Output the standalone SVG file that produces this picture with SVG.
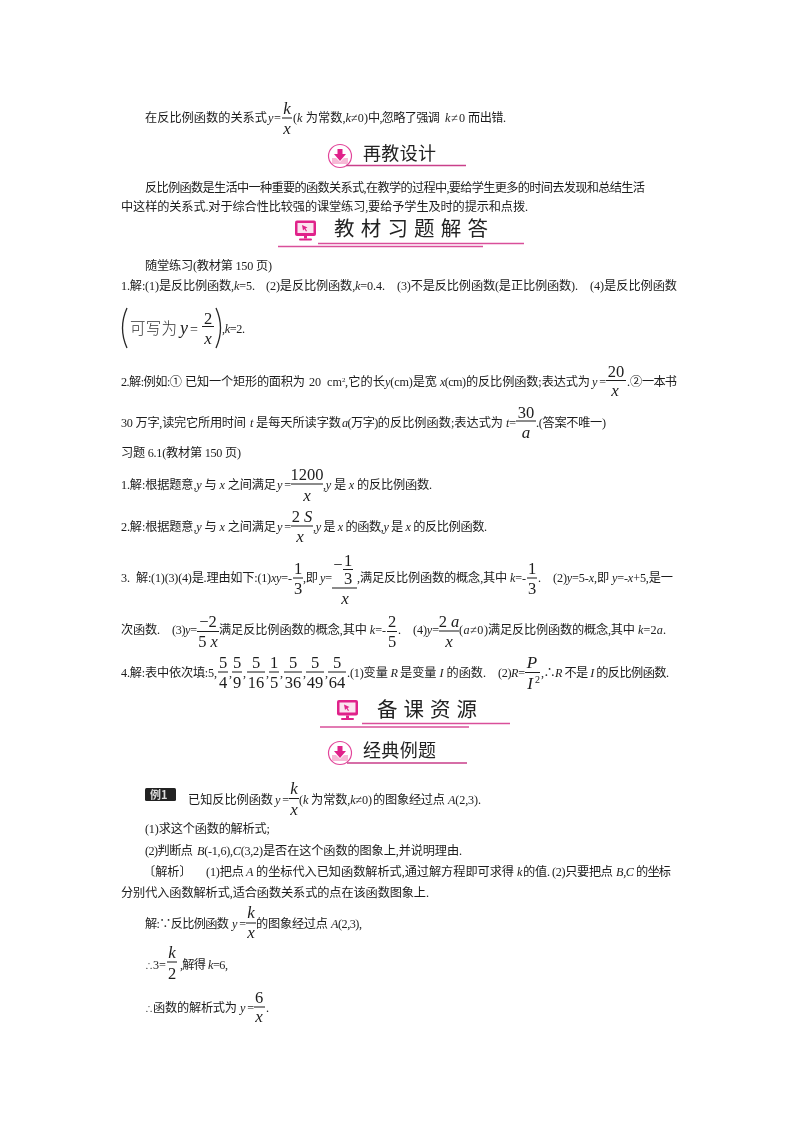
<svg xmlns="http://www.w3.org/2000/svg" width="800" height="1132" viewBox="0 0 800 1132">
<style>
text{font-family:"Liberation Serif","Noto Sans CJK SC",serif;font-size:12.2px;fill:#1c1c1c}
.v{font-style:italic}
.f{font-size:16.5px;text-anchor:middle}
.fi{font-size:17px;text-anchor:middle;font-style:italic}
.h{font-family:"Noto Sans CJK SC",sans-serif;font-size:18px;font-weight:400;fill:#222}
.h2{font-family:"Noto Sans CJK SC",sans-serif;font-size:20.500px;font-weight:400;fill:#222}
.p{font-family:"Noto Sans CJK SC",sans-serif;font-size:15.500px;font-weight:300;fill:#333}
.l{stroke:#1c1c1c;stroke-width:1;fill:none}
.r{stroke:#d94f9a;stroke-width:1.400;fill:none}
.r2{stroke:#c93f8a;stroke-width:1.500;fill:none}
.m{fill:#e0218a}
.n{fill:#f7b9d6}
</style>
<defs>
<filter id="soft" x="0" y="0" width="100%" height="100%"><feGaussianBlur stdDeviation="0.3"/></filter>
<g id="dl">
<circle cx="0" cy="0" r="11.500" fill="#fff" stroke="#e2459a" stroke-width="1.200"/>
<path class="n" d="M-8 2L-4 2L0 6L4 2L8 2L8 8L-8 8Z"/>
<path class="m" d="M-2.500 -7H2.500V-2H6L0 5L-6 -2H-2.500Z"/>
</g>
<g id="pc">
<rect x="0" y="0" width="21" height="15.500" rx="2" class="m"/>
<rect x="2.500" y="2.500" width="16" height="10" fill="#fbe3ef"/>
<path class="m" d="M7 4.500L12.500 7L10.500 8L12 10.500L11 11L9.500 8.500L8 10Z"/>
<rect x="9" y="15.500" width="3" height="2.500" class="m"/>
<rect x="4" y="18" width="13" height="2" rx="1" class="m"/>
</g>
</defs>
<rect width="800" height="1132" fill="#fff"/>
<g filter="url(#soft)">

<g id="note">
<text x="145" y="122" textLength="122">在反比例函数的关系式</text>
<text x="268" y="122" class="v">y</text><text x="274" y="122">=</text>
<text x="287" y="114" class="fi">k</text><path class="l" d="M282 118H292"/><text x="287" y="134" class="fi">x</text>
<text x="293" y="122" textLength="75">(<tspan class="v">k</tspan> 为常数,<tspan class="v">k</tspan>≠0)</text>
<text x="368" y="122" textLength="72">中,忽略了强调</text>
<text x="445" y="122" textLength="20"><tspan class="v">k</tspan>≠0</text>
<text x="468" y="122" textLength="38">而出错.</text>
</g>

<g id="heading-redesign">
<use href="#dl" x="340" y="156"/>
<text x="363" y="160" class="h" textLength="73">再教设计</text>
<path class="r2" d="M346 165.500H466"/>
</g>

<g id="para">
<text x="145" y="192" textLength="500">反比例函数是生活中一种重要的函数关系式,在教学的过程中,要给学生更多的时间去发现和总结生活</text>
<text x="121" y="211" textLength="407">中这样的关系式.对于综合性比较强的课堂练习,要给予学生及时的提示和点拨.</text>
</g>

<g id="heading-answers">
<use href="#pc" x="295" y="220.500"/>
<text x="334" y="236" class="h2" textLength="154">教材习题解答</text>
<path class="r" d="M318 243.500H524"/>
<path class="r" d="M278 246.500H483"/>
</g>

<g id="practice">
<text x="145" y="270" textLength="127">随堂练习(教材第 150 页)</text>
<text x="121" y="290" textLength="134">1.解:(1)是反比例函数,<tspan class="v">k</tspan>=5.</text>
<text x="266" y="290" textLength="119">(2)是反比例函数,<tspan class="v">k</tspan>=0.4.</text>
<text x="397" y="290" textLength="181">(3)不是反比例函数(是正比例函数).</text>
<text x="590" y="290" textLength="87">(4)是反比例函数</text>

<path d="M127 308Q118 328 127 348" fill="none" stroke="#262626" stroke-width="1.300"/>
<text x="130" y="333.500" class="p" textLength="47">可写为</text>
<text x="180" y="334" class="v" style="font-size:18px">y</text>
<text x="190" y="334" style="font-size:14px">=</text>
<text x="208" y="323.500" class="f">2</text><path class="l" d="M202 326.500H214"/><text x="208" y="344" class="fi">x</text>
<path d="M216 308Q225 328 216 348" fill="none" stroke="#262626" stroke-width="1.300"/>
<text x="222" y="333" textLength="23">,<tspan class="v">k</tspan>=2.</text>

<text x="121" y="386" textLength="61">2.解:例如:①</text>
<text x="185" y="386" textLength="120">已知一个矩形的面积为</text>
<text x="309" y="386">20</text>
<text x="327" y="386">cm</text><text x="342" y="382" style="font-size:7px">2</text>
<text x="345" y="386" textLength="40">,它的长</text>
<text x="385" y="386" textLength="52"><tspan class="v">y</tspan>(cm)是宽</text>
<text x="440" y="386" textLength="26"><tspan class="v">x</tspan>(cm)</text>
<text x="466" y="386" textLength="124">的反比例函数;表达式为</text>
<text x="592" y="386" textLength="14"><tspan class="v">y</tspan>=</text>
<text x="616" y="376.500" class="f">20</text><path class="l" d="M606 380.500H626"/><text x="615" y="396" class="fi">x</text>
<text x="627" y="386">.</text><text x="630" y="386">②</text>
<text x="642" y="386" textLength="35">一本书</text>

<text x="121" y="427" textLength="125">30 万字,读完它所用时间</text>
<text x="250" y="427" class="v">t</text>
<text x="256" y="427" textLength="85">是每天所读字数</text>
<text x="342" y="427" textLength="48"><tspan class="v">a</tspan>(万字)的</text>
<text x="390" y="427" textLength="113">反比例函数;表达式为</text>
<text x="506" y="427" textLength="10"><tspan class="v">t</tspan>=</text>
<text x="526" y="417.500" class="f">30</text><path class="l" d="M516 421H536"/><text x="526" y="438" class="fi">a</text>
<text x="536" y="427" textLength="70">.(答案不唯一)</text>
</g>

<g id="exercises">
<text x="121" y="457" textLength="120">习题 6.1(教材第 150 页)</text>

<text x="121" y="489" textLength="155">1.解:根据题意,<tspan class="v">y</tspan> 与 <tspan class="v">x</tspan> 之间满足</text>
<text x="277" y="489" textLength="14"><tspan class="v">y</tspan>=</text>
<text x="307" y="480" class="f">1200</text><path class="l" d="M291 484H323"/><text x="307" y="501" class="fi">x</text>
<text x="323" y="489" textLength="109">,<tspan class="v">y</tspan> 是 <tspan class="v">x</tspan> 的反比例函数.</text>

<text x="121" y="531" textLength="155">2.解:根据题意,<tspan class="v">y</tspan> 与 <tspan class="v">x</tspan> 之间满足</text>
<text x="277" y="531" textLength="14"><tspan class="v">y</tspan>=</text>
<text x="302" y="522" class="f">2 <tspan class="v">S</tspan></text><path class="l" d="M291 526H313"/><text x="300" y="542" class="fi">x</text>
<text x="313" y="531" textLength="174">,<tspan class="v">y</tspan> 是 <tspan class="v">x</tspan> 的函数,<tspan class="v">y</tspan> 是 <tspan class="v">x</tspan> 的反比例函数.</text>

<text x="121" y="582">3.</text>
<text x="136" y="582" textLength="156">解:(1)(3)(4)是.理由如下:(1)<tspan class="v">xy</tspan>=-</text>
<text x="298" y="574" class="f">1</text><path class="l" d="M293 578H303"/><text x="298" y="594" class="f">3</text>
<text x="303" y="582" textLength="29">,即 <tspan class="v">y</tspan>=</text>
<text x="338" y="570" class="f">−</text>
<text x="348" y="566" class="f">1</text><path class="l" d="M343 569.500H353"/><text x="348" y="584" class="f">3</text>
<path class="l" d="M332 588H357"/><text x="345" y="604" class="fi">x</text>
<text x="357" y="582" textLength="169">,满足反比例函数的概念,其中 <tspan class="v">k</tspan>=-</text>
<text x="532" y="574" class="f">1</text><path class="l" d="M527 578H537"/><text x="532" y="594" class="f">3</text>
<text x="538" y="582">.</text>
<text x="553" y="582" textLength="120">(2)<tspan class="v">y</tspan>=5-<tspan class="v">x</tspan>,即 <tspan class="v">y</tspan>=-<tspan class="v">x</tspan>+5,是一</text>

<text x="121" y="634" textLength="39">次函数.</text>
<text x="172" y="634" textLength="25">(3)<tspan class="v">y</tspan>=</text>
<text x="208" y="627" class="f">−2</text><path class="l" d="M197 631.500H219"/><text x="208" y="647" class="f">5 <tspan class="v">x</tspan></text>
<text x="219" y="634" textLength="167">满足反比例函数的概念,其中 <tspan class="v">k</tspan>=-</text>
<text x="392" y="627" class="f">2</text><path class="l" d="M387 631.500H397"/><text x="392" y="647" class="f">5</text>
<text x="398" y="634">.</text>
<text x="413" y="634" textLength="26">(4)<tspan class="v">y</tspan>=</text>
<text x="449" y="627" class="f">2 <tspan class="v">a</tspan></text><path class="l" d="M439 631H459"/><text x="449" y="647" class="fi">x</text>
<text x="459" y="634" textLength="29">(<tspan class="v">a</tspan>≠0)</text>
<text x="488" y="634" textLength="147">满足反比例函数的概念,其中</text>
<text x="638" y="634" textLength="28"><tspan class="v">k</tspan>=2<tspan class="v">a</tspan>.</text>

<text x="121" y="677" textLength="96">4.解:表中依次填:5,</text>
<text x="223" y="668" class="f">5</text><path class="l" d="M218 672H228"/><text x="223" y="688" class="f">4</text><text x="229" y="677">,</text>
<text x="237" y="668" class="f">5</text><path class="l" d="M232 672H242"/><text x="237" y="688" class="f">9</text><text x="243" y="677">,</text>
<text x="256" y="668" class="f">5</text><path class="l" d="M247 672H265"/><text x="256" y="688" class="f">16</text><text x="266" y="677">,</text>
<text x="274" y="668" class="f">1</text><path class="l" d="M269 672H279"/><text x="274" y="688" class="f">5</text><text x="280" y="677">,</text>
<text x="293" y="668" class="f">5</text><path class="l" d="M284 672H302"/><text x="293" y="688" class="f">36</text><text x="303" y="677">,</text>
<text x="315" y="668" class="f">5</text><path class="l" d="M306 672H324"/><text x="315" y="688" class="f">49</text><text x="325" y="677">,</text>
<text x="337" y="668" class="f">5</text><path class="l" d="M328 672H346"/><text x="337" y="688" class="f">64</text>
<text x="347" y="677" textLength="51">.(1)变量 <tspan class="v">R</tspan></text>
<text x="400" y="677" textLength="86">是变量 <tspan class="v">I</tspan> 的函数.</text>
<text x="498" y="677" textLength="27">(2)<tspan class="v">R</tspan>=</text>
<text x="532" y="668" class="fi">P</text><path class="l" d="M525 672.500H540"/><text x="530" y="689" class="fi">I</text><text x="535" y="683" style="font-size:10px">2</text>
<text x="541" y="677" textLength="128">,∴<tspan class="v">R</tspan> 不是 <tspan class="v">I</tspan> 的反比例函数.</text>
</g>

<g id="heading-resources">
<use href="#pc" x="337" y="700"/>
<text x="377" y="717" class="h2" textLength="100">备课资源</text>
<path class="r" d="M362 723.500H510"/>
<path class="r" d="M320 727H469"/>
</g>

<g id="heading-examples">
<use href="#dl" x="340" y="753"/>
<text x="363" y="757" class="h" textLength="73">经典例题</text>
<path class="r2" d="M347 763H467"/>
</g>

<g id="example">
<rect x="145" y="788" width="31" height="13" rx="1.500" fill="#222"/>
<text x="150" y="798.500" style="font-family:'Noto Sans CJK SC',sans-serif;font-size:11px;font-weight:700;fill:#ddd">例1</text>
<text x="188" y="804" textLength="85">已知反比例函数</text>
<text x="275" y="804" textLength="14"><tspan class="v">y</tspan>=</text>
<text x="294" y="794" class="fi">k</text><path class="l" d="M289 798.500H299"/><text x="294" y="815" class="fi">x</text>
<text x="299" y="804" textLength="73">(<tspan class="v">k</tspan> 为常数,<tspan class="v">k</tspan>≠0)</text>
<text x="373" y="804" textLength="72">的图象经过点</text>
<text x="448" y="804" textLength="33"><tspan class="v">A</tspan>(2,3).</text>
<text x="145" y="833" textLength="125">(1)求这个函数的解析式;</text>
<text x="145" y="855" textLength="48">(2)判断点</text>
<text x="197" y="855" textLength="66"><tspan class="v">B</tspan>(-1,6),<tspan class="v">C</tspan>(3,2)</text>
<text x="263" y="855" textLength="199">是否在这个函数的图象上,并说明理由.</text>

<text x="143" y="876">〔解析〕</text>
<text x="206" y="876" textLength="38">(1)把点</text>
<text x="246" y="876" class="v">A</text>
<text x="256" y="876" textLength="258">的坐标代入已知函数解析式,通过解方程即可求得</text>
<text x="517" y="876" class="v">k</text>
<text x="523" y="876" textLength="27">的值.</text>
<text x="552" y="876" textLength="61">(2)只要把点</text>
<text x="616" y="876" textLength="18"><tspan class="v">B,C</tspan></text>
<text x="636" y="876" textLength="35">的坐标</text>
<text x="121" y="897" textLength="308">分别代入函数解析式,适合函数关系式的点在该函数图象上.</text>

<text x="145" y="928" textLength="84">解:∵反比例函数</text>
<text x="232" y="928" textLength="14"><tspan class="v">y</tspan>=</text>
<text x="251" y="918" class="fi">k</text><path class="l" d="M246 923H256"/><text x="251" y="938" class="fi">x</text>
<text x="256" y="928" textLength="72">的图象经过点</text>
<text x="331" y="928" textLength="31"><tspan class="v">A</tspan>(2,3),</text>

<text x="145" y="969" style="font-size:8px">∴</text>
<text x="153" y="969">3=</text>
<text x="172" y="958" class="fi">k</text><path class="l" d="M167 962H177"/><text x="172" y="979" class="f">2</text>
<text x="180" y="969" textLength="26">,解得</text>
<text x="208" y="969" textLength="20"><tspan class="v">k</tspan>=6,</text>

<text x="145" y="1012" style="font-size:8px">∴</text>
<text x="153" y="1012" textLength="84">函数的解析式为</text>
<text x="240" y="1012" textLength="14"><tspan class="v">y</tspan>=</text>
<text x="259" y="1003" class="f">6</text><path class="l" d="M254 1007H265"/><text x="259" y="1022" class="fi">x</text>
<text x="266" y="1012">.</text>
</g>
</g>
</svg>
